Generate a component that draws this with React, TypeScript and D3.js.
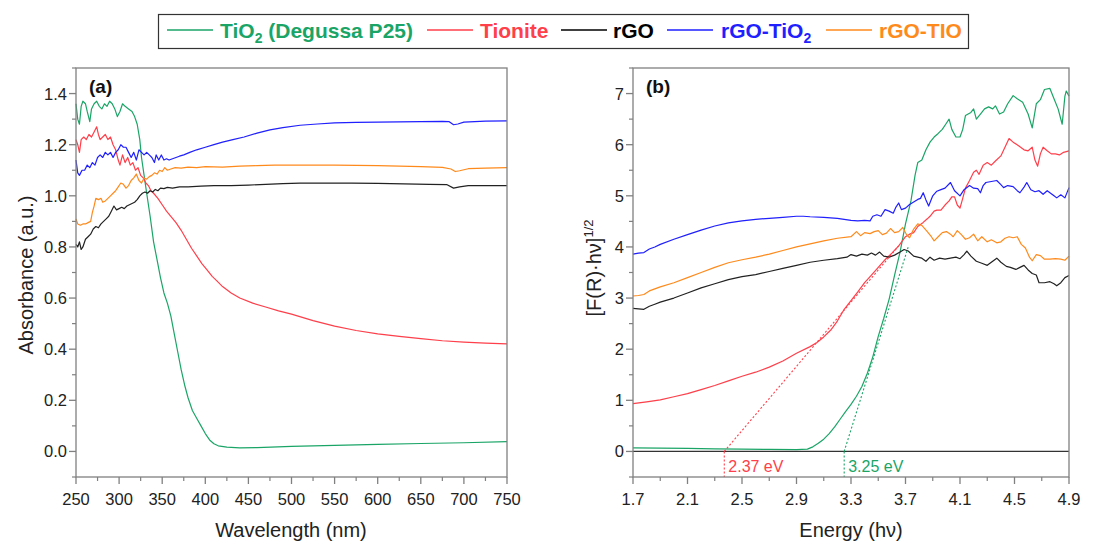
import React from 'react'
import * as d3 from 'd3'

// (a) absorbance vs wavelength (nm)
const tio2Abs = [[250,1.36],[252,1.30],[254,1.28],[256,1.35],[258,1.37],[261,1.36],[263,1.33],[266,1.29],[268,1.34],[271,1.36],[274,1.37],[277,1.35],[280,1.34],[283,1.36],[286,1.35],[289,1.37],[292,1.36],[295,1.34],[298,1.31],[301,1.33],[304,1.36],[307,1.35],[311,1.34],[315,1.33],[318,1.31],[321,1.28],[324,1.22],[326,1.15],[329,1.08],[332,1.01],[336,0.92],[340,0.82],[344,0.75],[348,0.68],[352,0.62],[356,0.58],[360,0.53],[364,0.46],[368,0.39],[372,0.32],[376,0.26],[380,0.21],[385,0.16],[390,0.13],[395,0.1],[400,0.07],[405,0.045],[410,0.03],[415,0.022],[425,0.017],[440,0.014],[460,0.015],[500,0.02],[550,0.024],[600,0.028],[650,0.031],[700,0.034],[750,0.038]]
const tioniteAbs = [[250,1.22],[252,1.2],[254,1.17],[256,1.22],[259,1.23],[262,1.22],[265,1.24],[268,1.23],[271,1.25],[274,1.27],[276,1.24],[278,1.22],[281,1.23],[284,1.24],[287,1.22],[290,1.23],[293,1.2],[296,1.18],[299,1.14],[301,1.12],[304,1.16],[307,1.13],[310,1.15],[313,1.12],[316,1.13],[319,1.1],[322,1.11],[325,1.08],[328,1.07],[331,1.05],[334,1.04],[337,1.02],[340,1.01],[345,0.99],[350,0.965],[355,0.94],[360,0.92],[366,0.895],[372,0.865],[378,0.83],[384,0.795],[390,0.765],[396,0.735],[402,0.71],[408,0.685],[414,0.665],[420,0.645],[430,0.62],[440,0.6],[455,0.58],[470,0.565],[485,0.55],[500,0.537],[525,0.512],[550,0.49],[575,0.473],[600,0.46],[625,0.45],[650,0.441],[675,0.433],[700,0.428],[725,0.424],[750,0.421]]
const rgoAbs = [[250,0.81],[252,0.8],[254,0.82],[256,0.79],[258,0.8],[261,0.83],[264,0.84],[267,0.85],[270,0.87],[273,0.88],[276,0.875],[279,0.89],[282,0.9],[285,0.91],[288,0.92],[291,0.94],[294,0.96],[297,0.945],[300,0.95],[303,0.955],[306,0.95],[309,0.96],[312,0.965],[315,0.97],[318,0.975],[321,0.985],[324,1.0],[327,1.01],[330,1.015],[333,1.01],[336,1.02],[339,1.015],[342,1.025],[345,1.02],[348,1.03],[352,1.028],[356,1.033],[362,1.03],[370,1.035],[380,1.035],[395,1.038],[410,1.04],[430,1.04],[450,1.042],[470,1.045],[490,1.048],[510,1.05],[540,1.05],[570,1.05],[600,1.049],[630,1.047],[660,1.045],[680,1.044],[688,1.03],[695,1.035],[705,1.04],[725,1.04],[750,1.04]]
const rgoTio2Abs = [[250,1.14],[252,1.09],[254,1.08],[257,1.1],[260,1.1],[263,1.12],[266,1.11],[269,1.13],[272,1.12],[275,1.15],[278,1.16],[281,1.15],[284,1.17],[287,1.16],[290,1.17],[293,1.15],[296,1.17],[299,1.18],[302,1.2],[305,1.19],[308,1.19],[311,1.17],[314,1.15],[317,1.17],[320,1.14],[323,1.18],[326,1.17],[329,1.16],[332,1.17],[335,1.16],[338,1.15],[341,1.13],[343,1.16],[346,1.14],[349,1.16],[352,1.14],[355,1.145],[358,1.14],[362,1.145],[366,1.15],[370,1.155],[375,1.16],[382,1.17],[390,1.18],[400,1.19],[410,1.2],[420,1.21],[432,1.22],[445,1.23],[460,1.245],[475,1.258],[490,1.267],[510,1.276],[530,1.281],[550,1.285],[575,1.287],[600,1.288],[625,1.289],[650,1.29],[675,1.291],[683,1.29],[688,1.278],[693,1.281],[700,1.288],[725,1.292],[750,1.293]]
const rgoTioAbs = [[250,0.91],[252,0.89],[255,0.885],[258,0.89],[261,0.89],[264,0.895],[267,0.9],[269,0.935],[271,0.96],[273,0.99],[276,0.985],[279,0.99],[281,0.975],[284,0.98],[287,0.99],[290,1.0],[293,1.01],[296,1.02],[299,1.035],[302,1.05],[305,1.045],[308,1.03],[311,1.04],[314,1.06],[317,1.07],[320,1.085],[323,1.06],[326,1.05],[329,1.07],[332,1.065],[335,1.075],[338,1.08],[341,1.09],[344,1.085],[347,1.1],[350,1.095],[353,1.11],[356,1.1],[360,1.105],[365,1.11],[372,1.108],[380,1.112],[390,1.11],[400,1.114],[420,1.112],[440,1.116],[460,1.118],[480,1.12],[500,1.12],[525,1.12],[550,1.12],[575,1.119],[600,1.118],[625,1.116],[650,1.114],[675,1.111],[685,1.105],[690,1.095],[695,1.098],[705,1.106],[725,1.108],[750,1.11]]

// (b) Tauc plot vs energy
const tio2Tauc = [[1.7,0.07],[1.9,0.065],[2.1,0.06],[2.3,0.05],[2.5,0.045],[2.7,0.04],[2.9,0.035],[2.98,0.045],[3.02,0.09],[3.06,0.16],[3.1,0.24],[3.14,0.35],[3.18,0.48],[3.22,0.63],[3.26,0.78],[3.3,0.92],[3.34,1.08],[3.38,1.27],[3.42,1.53],[3.46,1.85],[3.5,2.25],[3.54,2.6],[3.58,2.98],[3.62,3.45],[3.66,3.9],[3.7,4.45],[3.74,4.9],[3.77,5.4],[3.79,5.65],[3.82,5.7],[3.85,5.9],[3.88,6.05],[3.91,6.15],[3.94,6.22],[3.97,6.3],[4.0,6.42],[4.02,6.5],[4.04,6.3],[4.07,6.15],[4.1,6.15],[4.12,6.3],[4.14,6.57],[4.16,6.6],[4.18,6.63],[4.2,6.7],[4.22,6.5],[4.25,6.6],[4.28,6.7],[4.31,6.74],[4.34,6.7],[4.36,6.76],[4.39,6.6],[4.42,6.64],[4.45,6.8],[4.49,6.96],[4.52,6.9],[4.56,6.83],[4.6,6.6],[4.63,6.33],[4.66,6.8],[4.69,6.88],[4.72,7.08],[4.76,7.1],[4.79,6.9],[4.82,6.7],[4.85,6.4],[4.87,6.95],[4.88,7.05],[4.9,6.95]]
const tioniteTauc = [[1.7,0.935],[1.8,0.97],[1.9,1.01],[2.0,1.07],[2.1,1.13],[2.2,1.21],[2.3,1.29],[2.4,1.38],[2.5,1.47],[2.6,1.55],[2.7,1.65],[2.8,1.77],[2.9,1.92],[3.0,2.05],[3.05,2.13],[3.1,2.24],[3.15,2.37],[3.2,2.55],[3.25,2.78],[3.3,2.95],[3.35,3.12],[3.4,3.3],[3.45,3.45],[3.5,3.6],[3.55,3.75],[3.6,3.88],[3.65,4.02],[3.7,4.2],[3.73,4.25],[3.76,4.28],[3.79,4.4],[3.83,4.48],[3.86,4.55],[3.88,4.6],[3.91,4.7],[3.93,4.72],[3.96,4.72],[3.99,4.82],[4.02,4.9],[4.04,4.98],[4.06,4.98],[4.08,4.82],[4.1,4.76],[4.12,4.95],[4.14,5.15],[4.17,5.3],[4.2,5.46],[4.22,5.5],[4.24,5.42],[4.27,5.6],[4.3,5.65],[4.33,5.6],[4.36,5.68],[4.4,5.78],[4.43,5.95],[4.46,6.12],[4.49,6.05],[4.53,5.98],[4.57,5.9],[4.6,5.88],[4.63,5.95],[4.65,5.7],[4.67,5.58],[4.69,5.82],[4.71,5.95],[4.74,5.88],[4.77,5.82],[4.8,5.82],[4.83,5.8],[4.86,5.85],[4.9,5.88]]
const rgoTauc = [[1.7,2.8],[1.74,2.79],[1.78,2.78],[1.82,2.84],[1.86,2.88],[1.9,2.92],[2.0,3.0],[2.1,3.1],[2.2,3.2],[2.3,3.28],[2.4,3.36],[2.5,3.42],[2.6,3.46],[2.7,3.52],[2.8,3.58],[2.9,3.64],[3.0,3.7],[3.1,3.74],[3.2,3.77],[3.27,3.8],[3.3,3.85],[3.34,3.82],[3.38,3.86],[3.42,3.84],[3.45,3.88],[3.48,3.84],[3.51,3.9],[3.54,3.82],[3.58,3.8],[3.62,3.84],[3.66,3.9],[3.69,3.95],[3.72,3.92],[3.76,3.82],[3.79,3.8],[3.82,3.78],[3.85,3.72],[3.88,3.8],[3.91,3.74],[3.95,3.78],[3.99,3.76],[4.03,3.78],[4.07,3.8],[4.1,3.77],[4.13,3.85],[4.15,3.92],[4.18,3.82],[4.22,3.72],[4.26,3.68],[4.3,3.64],[4.33,3.7],[4.37,3.78],[4.4,3.7],[4.44,3.62],[4.47,3.6],[4.51,3.56],[4.54,3.6],[4.57,3.64],[4.6,3.55],[4.63,3.48],[4.66,3.45],[4.68,3.3],[4.72,3.3],[4.76,3.32],[4.79,3.28],[4.81,3.24],[4.84,3.3],[4.87,3.4],[4.9,3.44]]
const rgoTio2Tauc = [[1.7,3.86],[1.74,3.88],[1.78,3.89],[1.82,3.96],[1.86,4.0],[1.9,4.05],[2.0,4.15],[2.1,4.24],[2.2,4.33],[2.3,4.41],[2.4,4.47],[2.5,4.51],[2.6,4.54],[2.7,4.56],[2.8,4.58],[2.9,4.6],[2.95,4.6],[3.0,4.59],[3.1,4.58],[3.2,4.56],[3.3,4.52],[3.35,4.51],[3.4,4.52],[3.44,4.51],[3.46,4.6],[3.49,4.63],[3.52,4.6],[3.55,4.73],[3.58,4.7],[3.61,4.66],[3.63,4.78],[3.65,4.86],[3.67,4.73],[3.7,4.76],[3.73,4.83],[3.76,4.88],[3.79,4.93],[3.81,4.95],[3.83,5.06],[3.85,4.92],[3.87,4.8],[3.9,5.0],[3.93,5.09],[3.96,5.12],[3.99,5.15],[4.03,5.26],[4.06,5.1],[4.1,5.0],[4.13,5.12],[4.17,5.2],[4.2,5.15],[4.23,5.14],[4.25,5.06],[4.27,5.2],[4.29,5.26],[4.33,5.28],[4.37,5.3],[4.4,5.22],[4.42,5.16],[4.45,5.2],[4.49,5.18],[4.52,5.1],[4.54,5.06],[4.57,5.17],[4.59,5.26],[4.62,5.12],[4.65,5.08],[4.68,5.1],[4.71,5.03],[4.74,5.1],[4.76,5.06],[4.79,5.0],[4.81,4.96],[4.84,5.02],[4.87,4.96],[4.9,5.16]]
const rgoTioTauc = [[1.7,3.04],[1.74,3.05],[1.78,3.07],[1.82,3.14],[1.86,3.18],[1.9,3.22],[2.0,3.3],[2.1,3.4],[2.2,3.5],[2.3,3.6],[2.4,3.69],[2.5,3.75],[2.6,3.8],[2.7,3.86],[2.8,3.93],[2.9,4.0],[3.0,4.06],[3.1,4.12],[3.2,4.17],[3.3,4.2],[3.34,4.3],[3.37,4.22],[3.4,4.28],[3.44,4.26],[3.47,4.3],[3.5,4.32],[3.53,4.24],[3.56,4.27],[3.59,4.36],[3.62,4.28],[3.65,4.3],[3.68,4.38],[3.71,4.23],[3.73,4.18],[3.76,4.35],[3.79,4.45],[3.82,4.42],[3.86,4.3],[3.89,4.2],[3.91,4.12],[3.94,4.2],[3.97,4.28],[4.0,4.3],[4.03,4.25],[4.05,4.2],[4.08,4.32],[4.11,4.24],[4.14,4.15],[4.17,4.18],[4.2,4.25],[4.23,4.12],[4.26,4.2],[4.3,4.1],[4.33,4.14],[4.37,4.08],[4.4,4.1],[4.43,4.17],[4.46,4.2],[4.49,4.18],[4.52,4.2],[4.55,4.05],[4.58,3.98],[4.61,3.8],[4.63,3.73],[4.66,3.85],[4.69,3.83],[4.72,3.76],[4.76,3.76],[4.8,3.77],[4.84,3.76],[4.87,3.74],[4.9,3.82]]

// band gap fits
const tioniteGap = 2.37
const tio2Gap = 3.25
const tioniteFit = [[2.37, 0], [3.65, 4.02]]
const tio2Fit = [[3.25, 0], [3.72, 4.0]]

const wavelengthTicks = [250, 300, 350, 400, 450, 500, 550, 600, 650, 700, 750]
const absTicks = [0, 0.2, 0.4, 0.6, 0.8, 1.0, 1.2, 1.4]
const energyTicks = [1.7, 2.1, 2.5, 2.9, 3.3, 3.7, 4.1, 4.5, 4.9]
const taucTicks = [0, 1, 2, 3, 4, 5, 6, 7]

const GREEN = '#1aa567'
const RED = '#ff3f4a'
const BLACK = '#222222'
const BLUE = '#1f1fff'
const ORANGE = '#ff8a1c'
const AXIS = '#808080'
const FONT = 'Liberation Sans, Arial, sans-serif'

const seriesA = [
  { data: tio2Abs, color: GREEN },
  { data: tioniteAbs, color: RED },
  { data: rgoAbs, color: BLACK },
  { data: rgoTio2Abs, color: BLUE },
  { data: rgoTioAbs, color: ORANGE },
]
const seriesB = [
  { data: tio2Tauc, color: GREEN },
  { data: tioniteTauc, color: RED },
  { data: rgoTauc, color: BLACK },
  { data: rgoTio2Tauc, color: BLUE },
  { data: rgoTioTauc, color: ORANGE },
]

function range(a: number, b: number, step: number) {
  const out: number[] = []
  for (let v = a; v <= b + 1e-9; v += step) out.push(+v.toFixed(4))
  return out
}

function Panel({ x, y, xTicks, xMinor, yTicks, yMinor, fmtX, fmtY, series, label, children }: any) {
  const [x0, x1] = x.range()
  const [y0, y1] = y.range()
  const line = d3.line<number[]>().x(d => x(d[0])).y(d => y(d[1]))
  return (
    <g>
      {series.map((s: any, i: number) => (
        <path key={i} d={line(s.data) || ''} fill="none" stroke={s.color} strokeWidth={1.2} strokeLinejoin="round" />
      ))}
      {children}
      <rect x={x0} y={y1} width={x1 - x0} height={y0 - y1} fill="none" stroke={AXIS} strokeWidth={1.3} />
      {xTicks.map((t: number) => (
        <g key={'xt' + t}>
          <line x1={x(t)} x2={x(t)} y1={y0} y2={y0 + 7} stroke={AXIS} strokeWidth={1.3} />
          <text x={x(t)} y={y0 + 28} textAnchor="middle" fontSize={16.5} fontFamily={FONT} fill="#222">{fmtX(t)}</text>
        </g>
      ))}
      {xMinor.map((t: number) => (
        <line key={'xm' + t} x1={x(t)} x2={x(t)} y1={y0} y2={y0 + 4} stroke={AXIS} strokeWidth={1.2} />
      ))}
      {yTicks.map((t: number) => (
        <g key={'yt' + t}>
          <line x1={x0} x2={x0 - 7} y1={y(t)} y2={y(t)} stroke={AXIS} strokeWidth={1.3} />
          <text x={x0 - 9} y={y(t) + 6} textAnchor="end" fontSize={16.5} fontFamily={FONT} fill="#222">{fmtY(t)}</text>
        </g>
      ))}
      {yMinor.map((t: number) => (
        <line key={'ym' + t} x1={x0} x2={x0 - 4} y1={y(t)} y2={y(t)} stroke={AXIS} strokeWidth={1.2} />
      ))}
      <text x={x0 + 13} y={y1 + 25} fontSize={19} fontWeight="bold" fontFamily={FONT} fill="#111">{label}</text>
    </g>
  )
}

export default function App() {
  const xA = d3.scaleLinear().domain([250, 750]).range([76, 507])
  const yA = d3.scaleLinear().domain([-0.1, 1.5]).range([477, 68])
  const xB = d3.scaleLinear().domain([1.7, 4.9]).range([633, 1069])
  const yB = d3.scaleLinear().domain([-0.5, 7.5]).range([477, 68])
  const dash = d3.line<number[]>().x(d => xB(d[0])).y(d => yB(d[1]))

  const legend = [
    { label: ['TiO', '2', ' (Degussa P25)'], color: GREEN, lx: 167, tx: 220 },
    { label: ['Tionite'], color: RED, lx: 427, tx: 480 },
    { label: ['rGO'], color: '#000', lx: 561, tx: 613 },
    { label: ['rGO-TiO', '2'], color: BLUE, lx: 667, tx: 721 },
    { label: ['rGO-TIO'], color: ORANGE, lx: 826, tx: 879 },
  ]

  return (
    <svg width={1115} height={545} style={{ position: 'absolute', left: 0, top: 0, background: '#fff' }} fontFamily={FONT}>
      <rect x={0} y={0} width={1115} height={545} fill="#fff" />
      {/* legend */}
      <rect x={158.5} y={14.5} width={810} height={34} fill="#fff" stroke="#333" strokeWidth={1.2} />
      {legend.map((l, i) => (
        <g key={i}>
          <line x1={l.lx} x2={l.lx + 46} y1={30} y2={30} stroke={l.color} strokeWidth={1.3} />
          <text x={l.tx} y={37.5} fontSize={21} fontWeight="bold" fill={l.color} fontFamily={FONT}>
            {l.label[0]}
            {l.label.length > 1 && <tspan fontSize={14} dy={5}>{l.label[1]}</tspan>}
            {l.label.length > 2 && <tspan dy={-5}>{l.label[2]}</tspan>}
          </text>
        </g>
      ))}

      <Panel x={xA} y={yA} xTicks={wavelengthTicks} xMinor={range(275, 725, 50)} yTicks={absTicks}
        yMinor={range(-0.1, 1.5, 0.2)} fmtX={(t: number) => String(t)} fmtY={d3.format('.1f')}
        series={seriesA} label="(a)" />

      <Panel x={xB} y={yB} xTicks={energyTicks} xMinor={range(1.9, 4.7, 0.4)} yTicks={taucTicks}
        yMinor={range(-0.5, 7.5, 1)} fmtX={d3.format('.1f')} fmtY={(t: number) => String(t)}
        series={seriesB} label="(b)">
        <line x1={xB(1.7)} x2={xB(4.9)} y1={yB(0)} y2={yB(0)} stroke="#333" strokeWidth={1.2} />
        <path d={dash(tioniteFit) || ''} stroke={RED} strokeWidth={1.1} strokeDasharray="2,2" fill="none" />
        <path d={dash(tio2Fit) || ''} stroke={GREEN} strokeWidth={1.1} strokeDasharray="2,2" fill="none" />
        <line x1={xB(tioniteGap)} x2={xB(tioniteGap)} y1={yB(0)} y2={yB(-0.5)} stroke={RED} strokeWidth={1.1} strokeDasharray="2,2" />
        <line x1={xB(tio2Gap)} x2={xB(tio2Gap)} y1={yB(0)} y2={yB(-0.5)} stroke={GREEN} strokeWidth={1.1} strokeDasharray="2,2" />
        <text x={xB(tioniteGap) + 4} y={yB(0) + 21} fontSize={16} fill={RED} fontFamily={FONT}>{tioniteGap.toFixed(2)} eV</text>
        <text x={xB(tio2Gap) + 4} y={yB(0) + 21} fontSize={16} fill={GREEN} fontFamily={FONT}>{tio2Gap.toFixed(2)} eV</text>
      </Panel>

      {/* axis titles */}
      <text transform="translate(33,275) rotate(-90)" textAnchor="middle" fontSize={20} fill="#222" fontFamily={FONT}>Absorbance (a.u.)</text>
      <text x={291} y={537} textAnchor="middle" fontSize={20} fill="#222" fontFamily={FONT}>Wavelength (nm)</text>
      <text transform="translate(601,268) rotate(-90)" textAnchor="middle" fontSize={20} fill="#222" fontFamily={FONT}>
        [F(R)·hν]<tspan fontSize={13} dy={-8}>1/2</tspan>
      </text>
      <text x={851} y={537} textAnchor="middle" fontSize={20} fill="#222" fontFamily={FONT}>Energy (hν)</text>
    </svg>
  )
}
